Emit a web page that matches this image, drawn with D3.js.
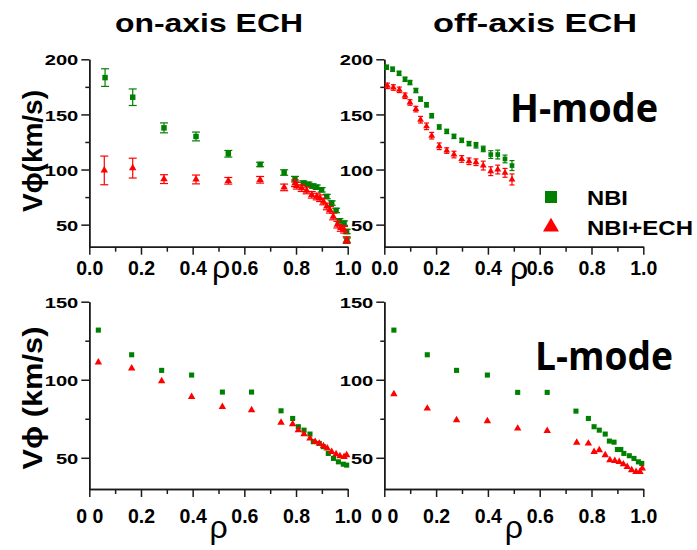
<!DOCTYPE html>
<html>
<head>
<meta charset="utf-8">
<script src="https://cdn.jsdelivr.net/npm/d3@7"></script>
<style>
body { margin: 0; background: #fff; }
svg text { font-family: "Liberation Sans", Arial, sans-serif; font-weight: bold; fill: #000; }
</style>
</head>
<body>
<svg id="chart" width="697" height="550"></svg>
<script>
// ---- on-axis ECH, H-mode
var rhoOnH_NBI = [0.061, 0.168, 0.289, 0.413, 0.538, 0.661, 0.754, 0.796, 0.828, 0.848, 0.865, 0.880, 0.899, 0.919, 0.938, 0.955, 0.968, 0.986, 0.996, 0.997]
var vOnH_NBI   = [183.4, 165.6, 137.8, 130.0, 114.3, 104.6, 97.3, 91.3, 87.7, 86.6, 85.0, 84.0, 81.6, 75.5, 69.6, 62.9, 53.5, 51.4, 43.8, 36.0]
var errOnH_NBI = [8, 7.5, 4.5, 4, 3, 2, 2.5, 2.5, 2, 2, 2, 2, 2, 2, 2, 2, 2, 2, 2, 2]
var rhoOnH_ECH = [0.058, 0.168, 0.289, 0.413, 0.538, 0.661, 0.754, 0.796, 0.803, 0.822, 0.841, 0.861, 0.880, 0.893, 0.906, 0.919, 0.931, 0.944, 0.960, 0.973, 0.986, 0.996]
var vOnH_ECH   = [99.2, 101.3, 91.3, 91.0, 89.8, 90.7, 83.8, 87.5, 85.3, 83.1, 81.0, 77.1, 75.5, 74.0, 71.0, 66.5, 63.5, 57.4, 50.0, 47.0, 45.4, 36.0]
var errOnH_ECH = [13, 9, 4, 4, 3, 3, 3, 3, 3, 3, 3, 3, 3, 3, 3, 3, 3, 3, 3, 3, 3, 3]

// ---- off-axis ECH, H-mode
var rhoOffH_NBI = [0.009, 0.032, 0.057, 0.080, 0.099, 0.122, 0.140, 0.163, 0.183, 0.212, 0.241, 0.269, 0.299, 0.327, 0.354, 0.382, 0.411, 0.438, 0.466, 0.493]
var vOffH_NBI   = [192.8, 191.0, 187.3, 181.9, 178.9, 171.7, 163.9, 158.7, 148.8, 138.6, 134.6, 130.1, 126.5, 123.5, 122.0, 118.7, 113.6, 113.6, 109.6, 103.6]
var errOffH_NBI = [2, 2, 2, 2, 2, 2, 2, 2, 2, 2, 2, 2, 2, 2, 2.5, 2.5, 3.5, 4, 3.5, 4.5]
var rhoOffH_ECH = [0.012, 0.035, 0.058, 0.080, 0.099, 0.122, 0.140, 0.163, 0.183, 0.212, 0.241, 0.269, 0.299, 0.327, 0.354, 0.382, 0.411, 0.438, 0.466, 0.493]
var vOffH_ECH   = [175.9, 174.4, 172.3, 166.9, 160.8, 154.8, 145.2, 139.2, 130.7, 121.1, 117.2, 113.6, 109.6, 107.5, 106.6, 103.6, 98.5, 100.0, 97.0, 91.0]
var errOffH_ECH = [2.5, 2.5, 2.5, 2.5, 2.5, 2.5, 3, 3, 3, 3, 2.5, 3, 3, 3, 3, 4, 4, 4, 4, 5]

// ---- on-axis ECH, L-mode
var rhoOnL_NBI = [0.035, 0.164, 0.280, 0.396, 0.515, 0.628, 0.742, 0.787, 0.809, 0.831, 0.854, 0.867, 0.890, 0.906, 0.925, 0.945, 0.964, 0.983, 0.996]
var vOnL_NBI   = [131.8, 116.0, 106.0, 103.0, 92.1, 92.1, 80.1, 75.2, 69.9, 67.7, 65.2, 60.3, 59.2, 57.1, 52.8, 49.6, 47.4, 45.9, 45.3]
var rhoOnL_ECH = [0.035, 0.164, 0.280, 0.396, 0.515, 0.628, 0.742, 0.787, 0.809, 0.831, 0.854, 0.874, 0.890, 0.906, 0.921, 0.938, 0.955, 0.970, 0.986, 0.996]
var vOnL_ECH   = [111.1, 107.3, 99.1, 89.1, 82.7, 80.6, 72.6, 71.6, 67.7, 65.2, 62.4, 60.3, 59.2, 57.5, 56.0, 53.8, 52.4, 51.1, 50.6, 51.7]

// ---- off-axis ECH, L-mode
var rhoOffL_NBI = [0.037, 0.166, 0.279, 0.398, 0.515, 0.629, 0.740, 0.788, 0.810, 0.830, 0.853, 0.869, 0.887, 0.900, 0.913, 0.925, 0.946, 0.964, 0.981, 0.994]
var vOffL_NBI   = [131.8, 116.0, 106.0, 103.0, 91.9, 91.9, 79.9, 75.2, 69.9, 67.7, 65.2, 60.7, 60.0, 55.3, 55.3, 52.8, 51.3, 49.6, 47.4, 46.4]
var rhoOffL_ECH = [0.037, 0.166, 0.279, 0.398, 0.515, 0.629, 0.743, 0.788, 0.810, 0.830, 0.853, 0.871, 0.890, 0.907, 0.923, 0.938, 0.955, 0.972, 0.987, 0.996]
var vOffL_ECH   = [90.8, 81.6, 74.1, 73.5, 68.8, 67.3, 59.8, 59.2, 53.8, 54.9, 51.7, 48.5, 48.1, 47.4, 45.9, 44.2, 42.1, 41.0, 41.0, 43.2]

// ---- ticks and labels
var xTicks = [0, 0.2, 0.4, 0.6, 0.8, 1.0]
var xMinor = [0.1, 0.3, 0.5, 0.7, 0.9]
var xLabelsTop = ["0.0", "0.2", "0.4", "0.6", "0.8", "1.0"]
var xLabelsBottom = ["0 0", "0.2", "0.4", "0.6", "0.8", "1.0"]
var yTicksH = [50, 100, 150, 200]
var yMinorH = [75, 125, 175]
var yTicksL = [50, 100, 150]
var yMinorL = [75, 125]
var series = ["NBI", "NBI+ECH"]

var GREEN = "#008000", RED = "#ff0000"
var svg = d3.select("#chart")

function zip(rho, v, err) {
    return rho.map((r, i) => ({ rho: r, v: v[i], err: err ? err[i] : 0 }))
}

function drawPanel(p) {
    var x = d3.scaleLinear().domain([0, 1]).range([p.left, p.right])
    var y = d3.scaleLinear().domain(p.yDomain).range([p.bottom, p.top])
    var g = svg.append("g")

    // minor ticks first, then major axis on top
    g.append("g").attr("transform", "translate(0," + p.bottom + ")")
      .call(d3.axisBottom(x).tickValues(xMinor).tickSize(5).tickSizeOuter(0).tickFormat(""))
    var gx = g.append("g").attr("transform", "translate(0," + p.bottom + ")")
      .call(d3.axisBottom(x).tickValues(xTicks).tickSize(8).tickSizeOuter(0)
        .tickFormat((d, i) => p.xLabels[i]))
    gx.selectAll(".tick text").attr("y", p.xLabelY).attr("dy", 0)
      .style("font-size", "19.5px")

    g.append("g").attr("transform", "translate(" + p.left + ",0)")
      .call(d3.axisLeft(y).tickValues(p.yMinor).tickSize(4).tickSizeOuter(0).tickFormat(""))
    var gy = g.append("g").attr("transform", "translate(" + p.left + ",0)")
      .call(d3.axisLeft(y).tickValues(p.yTicks).tickSize(8).tickSizeOuter(0))
    gy.selectAll(".tick text").attr("x", 0).attr("dy", "0.36em")
      .attr("transform", "translate(-11,0) scale(1.3,1)")
      .style("font-size", "15.5px")

    g.selectAll(".domain, .tick line").attr("stroke", "#1a1a1a").attr("stroke-width", 1.5)

    p.sets.forEach(s => {
        var pts = zip(s.rho, s.v, s.err)
        var color = s.name == "NBI" ? GREEN : RED
        if (s.err) {
            var eb = g.append("g").attr("stroke", color).attr("stroke-width", 1.2)
            pts.forEach(d => {
                var cx = x(d.rho)
                eb.append("line").attr("x1", cx).attr("x2", cx)
                  .attr("y1", y(d.v - d.err)).attr("y2", y(d.v + d.err))
                eb.append("line").attr("x1", cx - p.cap).attr("x2", cx + p.cap)
                  .attr("y1", y(d.v + d.err)).attr("y2", y(d.v + d.err))
                eb.append("line").attr("x1", cx - p.cap).attr("x2", cx + p.cap)
                  .attr("y1", y(d.v - d.err)).attr("y2", y(d.v - d.err))
            })
        }
        var sym = s.name == "NBI"
            ? d3.symbol(d3.symbolSquare, p.sqSize)
            : d3.symbol(d3.symbolTriangle, p.triSize)
        g.append("g").selectAll("path")
          .data(pts)
          .enter().append("path")
          .attr("d", sym)
          .attr("transform", d => "translate(" + x(d.rho) + "," + y(d.v) + ")")
          .attr("fill", color)
    })

    // rho label
    g.append("text")
      .attr("x", x(p.rhoAt)).attr("y", p.rhoY)
      .attr("text-anchor", "middle")
      .style("font-size", "32px").style("font-weight", "normal")
      .text("ρ")
}

drawPanel({
    left: 89.3, right: 347.7, top: 59.3, bottom: 246.7, yDomain: [30, 200],
    yTicks: yTicksH, yMinor: yMinorH, xLabels: xLabelsTop, xLabelY: 28,
    rhoAt: 0.51, rhoY: 278, cap: 4, sqSize: 30, triSize: 24,
    sets: [
        { name: "NBI", rho: rhoOnH_NBI, v: vOnH_NBI, err: errOnH_NBI },
        { name: "NBI+ECH", rho: rhoOnH_ECH, v: vOnH_ECH, err: errOnH_ECH }
    ]
})
drawPanel({
    left: 384.3, right: 643.3, top: 59.3, bottom: 246.7, yDomain: [30, 200],
    yTicks: yTicksH, yMinor: yMinorH, xLabels: xLabelsTop, xLabelY: 28,
    rhoAt: 0.52, rhoY: 279, cap: 2.5, sqSize: 22, triSize: 20,
    sets: [
        { name: "NBI", rho: rhoOffH_NBI, v: vOffH_NBI, err: errOffH_NBI },
        { name: "NBI+ECH", rho: rhoOffH_ECH, v: vOffH_ECH, err: errOffH_ECH }
    ]
})
drawPanel({
    left: 89.3, right: 347.7, top: 301.7, bottom: 489, yDomain: [30, 150],
    yTicks: yTicksL, yMinor: yMinorL, xLabels: xLabelsBottom, xLabelY: 34,
    rhoAt: 0.50, rhoY: 538, cap: 0, sqSize: 26, triSize: 24,
    sets: [
        { name: "NBI", rho: rhoOnL_NBI, v: vOnL_NBI },
        { name: "NBI+ECH", rho: rhoOnL_ECH, v: vOnL_ECH }
    ]
})
drawPanel({
    left: 384.3, right: 643.3, top: 301.7, bottom: 489, yDomain: [30, 150],
    yTicks: yTicksL, yMinor: yMinorL, xLabels: xLabelsBottom, xLabelY: 34,
    rhoAt: 0.50, rhoY: 538, cap: 0, sqSize: 26, triSize: 24,
    sets: [
        { name: "NBI", rho: rhoOffL_NBI, v: vOffL_NBI },
        { name: "NBI+ECH", rho: rhoOffL_ECH, v: vOffL_ECH }
    ]
})

// column titles
svg.append("text").attr("x", 115).attr("y", 32.3)
  .attr("textLength", 188).attr("lengthAdjust", "spacingAndGlyphs")
  .style("font-size", "26.5px").text("on-axis ECH")
svg.append("text").attr("x", 433).attr("y", 32.3)
  .attr("textLength", 204).attr("lengthAdjust", "spacingAndGlyphs")
  .style("font-size", "26.5px").text("off-axis ECH")

// y titles
svg.append("text").attr("transform", "translate(42,151) rotate(-90)")
  .attr("text-anchor", "middle").attr("textLength", 122).attr("lengthAdjust", "spacingAndGlyphs")
  .style("font-size", "28px").text("Vϕ(km/s)")
svg.append("text").attr("transform", "translate(42,398) rotate(-90)")
  .attr("text-anchor", "middle").attr("textLength", 143).attr("lengthAdjust", "spacingAndGlyphs")
  .style("font-size", "28px").text("Vϕ (km/s)")

// mode labels
svg.append("text").attr("x", 510).attr("y", 121.7)
  .attr("textLength", 148).attr("lengthAdjust", "spacingAndGlyphs")
  .style("font-family", "'Open Sans', sans-serif").style("font-size", "40px").text("H-mode")
svg.append("text").attr("x", 535).attr("y", 370)
  .attr("textLength", 138).attr("lengthAdjust", "spacingAndGlyphs")
  .style("font-family", "'Open Sans', sans-serif").style("font-size", "40px").text("L-mode")

// legend
var legend = svg.append("g").attr("class", "legend")
legend.selectAll("path").data(series).enter().append("path")
  .attr("d", d => d == "NBI" ? d3.symbol(d3.symbolSquare, 144)() : d3.symbol(d3.symbolTriangle, 110)())
  .attr("transform", (d, i) => "translate(551," + (197 + i * 30) + ")")
  .attr("fill", d => d == "NBI" ? GREEN : RED)
legend.selectAll("text").data(series).enter().append("text")
  .attr("x", 587).attr("y", (d, i) => 205 + i * 30)
  .attr("textLength", d => d == "NBI" ? 41 : 106).attr("lengthAdjust", "spacingAndGlyphs")
  .style("font-size", "19.5px").text(d => d)
</script>
</body>
</html>
